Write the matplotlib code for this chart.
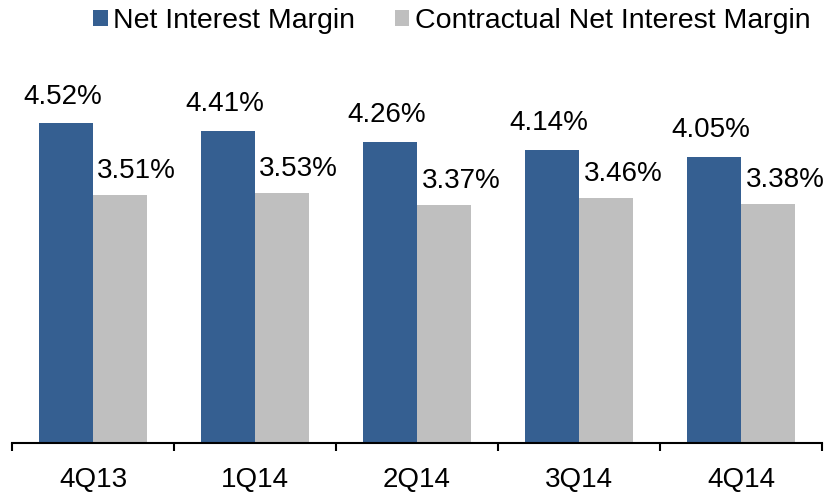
import matplotlib
matplotlib.use("Agg")
import matplotlib.pyplot as plt
import numpy as np

plt.rcParams['font.family'] = ['Liberation Sans', 'DejaVu Sans']

# 数据
quarters = ["4Q13", "1Q14", "2Q14", "3Q14", "4Q14"]
nim = [4.52, 4.41, 4.26, 4.14, 4.05]
contractual_nim = [3.51, 3.53, 3.37, 3.46, 3.38]

blue = "#355F91"
gray = "#BFBFBF"

fig = plt.figure(figsize=(8.25, 4.94), dpi=100)
ax = fig.add_axes([0.0145, 0.1032, 0.982, 0.79])

x = np.arange(len(quarters))
w = 0.335
b1 = ax.bar(x - w / 2, nim, w, color=blue, label="Net Interest Margin")
b2 = ax.bar(x + w / 2, contractual_nim, w, color=gray, label="Contractual Net Interest Margin")

# 数值标签
for rect, v in zip(b1, nim):
    ax.annotate(f"{v:.2f}%", (rect.get_x() + rect.get_width() / 2, v),
                xytext=(-2, 10), textcoords="offset points",
                ha="center", va="bottom", fontsize=20)
for rect, v in zip(b2, contractual_nim):
    ax.annotate(f"{v:.2f}%", (rect.get_x() + rect.get_width() / 2, v),
                xytext=(12, 8), textcoords="offset points",
                ha="center", va="bottom", fontsize=20)

ax.set_xlim(-0.5, len(quarters) - 0.5)
ax.set_ylim(0, 5.52)

for s in ["top", "right", "left"]:
    ax.spines[s].set_visible(False)
ax.spines["bottom"].set_linewidth(1.5)
ax.set_yticks([])

# 分类刻度放在中间，刻度线放在边界
ax.set_xticks(x)
ax.set_xticklabels(quarters, fontsize=20)
ax.tick_params(axis="x", length=0, pad=17)
ax.set_xticks(np.arange(len(quarters) + 1) - 0.5, minor=True)
ax.tick_params(axis="x", which="minor", length=6, width=1.5, direction="out")

leg = fig.legend(loc="upper center", bbox_to_anchor=(0.548, 1.035), ncol=2,
                 frameon=False, fontsize=20.5, handlelength=0.5, handleheight=0.5,
                 handletextpad=0.2, columnspacing=1.4)

fig.savefig("out.png", dpi=100)
